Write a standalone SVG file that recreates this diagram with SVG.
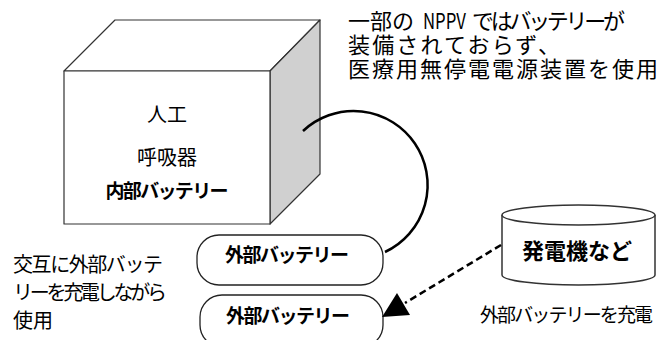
<svg xmlns="http://www.w3.org/2000/svg" width="666" height="340" viewBox="0 0 666 340">
<style>
text{font-family:"Noto Sans CJK JP","Noto Sans",sans-serif;fill:#000;}
.b{font-weight:bold;}
.c{text-anchor:middle;}
.cube{stroke:#333;stroke-width:1.2;stroke-linejoin:round;}
.pill{fill:#fff;stroke:#222;stroke-width:1.3;}
</style>
<rect width="666" height="340" fill="#fff"/>
<g id="ventilator">
<polygon class="cube" points="64,71 115,20 320,20 270,71" fill="#fff"/>
<polygon class="cube" points="270,71 320,20 320,174 270,224" fill="#d0d0d0"/>
<rect class="cube" x="64" y="71" width="206" height="153" fill="#fff"/>
<text class="c" x="167" y="122" font-size="20">人工</text>
<text class="c" x="167" y="165" font-size="20">呼吸器</text>
<text class="c b" x="167" y="198" font-size="19" textLength="123" lengthAdjust="spacing">内部バッテリー</text>
</g>
<g id="note-top">
<text x="348" y="29" font-size="22">一部の <tspan x="423" textLength="43" lengthAdjust="spacingAndGlyphs">NPPV</tspan> <tspan x="472" textLength="153" lengthAdjust="spacing">ではバッテリーが</tspan></text>
<text x="348" y="53" font-size="22" textLength="212" lengthAdjust="spacing">装備されておらず、</text>
<text x="348" y="77" font-size="22" textLength="310" lengthAdjust="spacing">医療用無停電電源装置を使用</text>
</g>
<g id="battery1">
<rect class="pill" x="197" y="235" width="186" height="50" rx="22" ry="22"/>
<text class="c b" x="287" y="262" font-size="19" textLength="124" lengthAdjust="spacing">外部バッテリー</text>
</g>
<g id="battery2">
<rect class="pill" x="200" y="295" width="183" height="52" rx="22" ry="22"/>
<text class="c b" x="288" y="323" font-size="19" textLength="124" lengthAdjust="spacing">外部バッテリー</text>
</g>
<g id="note-left">
<text x="13" y="272" font-size="20" textLength="150" lengthAdjust="spacing">交互に外部バッテ</text>
<text x="13" y="300" font-size="20" textLength="154" lengthAdjust="spacing">リーを充電しながら</text>
<text x="13" y="328" font-size="20">使用</text>
</g>
<g id="generator">
<path d="M502,215 L502,275 A76.5,10 0 0 0 655,275 L655,215" fill="#fff" stroke="#333" stroke-width="1.5"/>
<ellipse cx="578.5" cy="215" rx="76.5" ry="10" fill="#fff" stroke="#333" stroke-width="1.5"/>
<text class="c b" x="577" y="259" font-size="22">発電機など</text>
</g>
<g id="note-charge">
<text x="480" y="322" font-size="19" textLength="173" lengthAdjust="spacing">外部バッテリーを充電</text>
</g>
<g id="connectors">
<path d="M303,131 A74,74 0 1 1 385,252" fill="none" stroke="#000" stroke-width="2.5"/>
<line x1="501" y1="245" x2="405" y2="303" stroke="#000" stroke-width="2.5" stroke-dasharray="7,4"/>
<polygon points="382,317 397,293 410,315" fill="#000"/>
</g>
</svg>
